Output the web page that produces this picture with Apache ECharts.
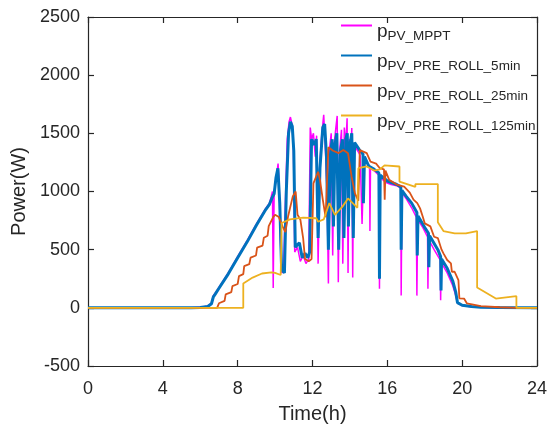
<!DOCTYPE html>
<html>
<head>
<meta charset="utf-8">
<script src="https://cdn.jsdelivr.net/npm/echarts@6/dist/echarts.min.js"></script>
<style>html,body{margin:0;padding:0;background:#fff}#c{width:550px;height:432px}</style>
</head>
<body>
<div id="c"></div>
<script>
// ---- data (time in hours, power in W) ----
var xTicks = [0, 4, 8, 12, 16, 20, 24];
var yTicks = [-500, 0, 500, 1000, 1500, 2000, 2500];
var seriesNames = ['p_PV_MPPT', 'p_PV_PRE_ROLL_5min', 'p_PV_PRE_ROLL_25min', 'p_PV_PRE_ROLL_125min'];
var legendSubs = ['PV_MPPT', 'PV_PRE_ROLL_5min', 'PV_PRE_ROLL_25min', 'PV_PRE_ROLL_125min'];

var pMPPT = [
  [0,0],[5.5,0],[6.0,4],[6.4,15],[6.6,40],[6.7,105],[6.8,125],[7.0,175],[7.5,300],[8.0,440],[8.5,575],[9.0,720],[9.5,855],
  [9.7,900],[9.8,960],[9.86,1000],[9.9,170],[9.95,1000],[10.05,1100],[10.16,1240],[10.22,1050],[10.28,600],[10.35,300],
  [10.45,320],[10.55,900],[10.65,1450],[10.75,1600],[10.82,1640],[10.9,1580],[10.98,1400],[11.05,480],[11.2,520],[11.35,400],
  [11.5,450],[11.65,380],[11.8,420],[11.88,1550],[11.95,1450],[12.05,1500],[12.15,1300],[12.22,1480],[12.3,380],[12.4,1250],
  [12.5,1500],[12.6,1660],[12.68,1400],[12.78,1000],[12.85,210],[12.9,1350],[13.0,1500],[13.08,450],[13.15,1400],[13.25,1550],
  [13.32,1650],[13.38,220],[13.45,1350],[13.55,1530],[13.62,380],[13.7,1550],[13.78,1400],[13.85,1630],[13.9,300],[13.96,1450],
  [14.04,1300],[14.1,1545],[14.15,260],[14.2,1400],[14.3,1380],[14.45,1340],[14.55,1310],[14.65,720],[14.75,1290],[14.9,1250],
  [15.05,1220],[15.07,660],[15.1,1200],[15.35,1170],[15.55,1140],[15.58,165],[15.62,1120],[15.9,1080],[16.2,1060],[16.5,1050],
  [16.72,1030],[16.74,105],[16.78,990],[17.0,940],[17.3,860],[17.55,780],[17.58,105],[17.62,760],[17.9,690],[18.15,610],
  [18.17,165],[18.2,590],[18.5,500],[18.83,410],[18.85,65],[18.88,390],[19.2,300],[19.5,190],[19.65,110],[19.75,40],
  [20.0,20],[20.5,10],[21.0,5],[22.0,0],[24,0]
];

var pRoll5 = [
  [0,0],[5.5,0],[6.0,3],[6.4,12],[6.6,35],[6.7,95],[6.8,118],[7.0,168],[7.5,292],[8.0,430],[8.5,565],[9.0,710],[9.5,845],
  [9.7,890],[9.85,950],[9.95,980],[10.05,1120],[10.15,1200],[10.25,900],[10.35,330],[10.5,300],[10.6,1000],[10.72,1500],
  [10.82,1600],[10.92,1560],[11.0,1350],[11.08,520],[11.3,560],[11.45,430],[11.6,470],[11.75,430],[11.85,480],[11.95,1450],
  [12.1,1400],[12.2,1450],[12.3,600],[12.4,1200],[12.55,1550],[12.65,1580],[12.75,1300],[12.85,500],[12.95,1300],[13.05,1450],
  [13.12,700],[13.2,1400],[13.3,1500],[13.4,500],[13.5,1350],[13.6,1450],[13.68,600],[13.78,1450],[13.86,1500],[13.92,700],
  [14.0,1400],[14.1,1500],[14.18,600],[14.25,1420],[14.5,1360],[14.7,1320],[14.72,900],[14.78,1300],[15.0,1220],[15.3,1190],
  [15.55,1160],[15.58,250],[15.62,1140],[16.0,1090],[16.5,1060],[16.72,1040],[16.74,500],[16.78,1010],[17.0,960],[17.3,900],
  [17.58,820],[17.6,450],[17.64,790],[18.0,690],[18.2,640],[18.22,350],[18.26,620],[18.7,500],[18.85,440],[18.87,150],
  [18.9,420],[19.2,340],[19.5,230],[19.65,140],[19.75,45],[20.0,22],[20.5,12],[21.0,6],[22.0,2],[24,0]
];

var pRoll25 = [
  [0,0],[6.9,0],[7.0,39],[7.3,60],[7.36,116],[7.66,135],[7.72,187],[8.0,205],[8.07,273],[8.3,290],[8.35,359],[8.62,375],
  [8.69,431],[8.98,450],[9.04,517],[9.33,535],[9.4,603],[9.6,620],[9.66,703],[9.9,780],[10.0,800],[10.2,780],[10.4,700],
  [10.55,650],[10.7,790],[10.95,960],[11.1,1000],[11.2,800],[11.35,760],[11.5,600],[11.6,420],[11.8,400],[11.95,420],
  [12.05,1070],[12.3,1170],[12.4,1100],[12.55,930],[12.7,780],[12.85,1380],[13.1,1350],[13.4,1330],[13.65,1356],[13.9,1328],
  [14.09,1127],[14.27,984],[14.45,920],[14.53,1356],[14.9,1330],[15.1,1256],[15.4,1240],[15.6,1200],[15.82,1190],[15.86,930],
  [15.9,1180],[16.1,1100],[16.5,1060],[16.9,1041],[17.2,990],[17.4,930],[17.6,900],[17.75,855],[17.9,780],[18.0,726],
  [18.3,700],[18.5,611],[18.7,600],[18.9,500],[19.0,468],[19.2,411],[19.4,382],[19.45,310],[19.6,310],[19.8,239],[19.85,82],
  [20.1,80],[20.25,39],[21,15],[22,5],[22.9,0],[24,0]
];

var pRoll125 = [
  [0,0],[8.3,0],[8.3,210],[8.8,260],[9.3,295],[9.8,305],[10.0,300],[10.3,282],[10.35,729],[10.8,760],[11.5,775],[12.2,770],
  [12.3,740],[12.6,760],[12.9,900],[13.2,800],[13.6,870],[13.9,940],[14.4,860],[14.45,1200],[14.9,1215],[15.3,1180],[15.6,1190],
  [15.85,1225],[16.65,1215],[16.65,1085],[17.5,1040],[17.5,1064],[18.7,1064],[18.7,735],[19.0,660],[19.6,640],[20.2,640],
  [20.8,660],[20.8,175],[21.8,80],[22.9,100],[22.9,0],[24,0]
];

var colors = ['#FF00FF', '#0072BD', '#D95319', '#EDB120'];
var widths = [1.5, 3, 1.8, 1.8];
var allData = [pMPPT, pRoll5, pRoll25, pRoll125];
// which axis pair each series uses (both pairs share identical scales; pair 1 gives the top/right box axes)
var axisPair = [1, 0, 0, 0];

var FONT = 'Liberation Sans, Arial, sans-serif';
var TXT = '#262626';

var chart = echarts.init(document.getElementById('c'), null, {renderer: 'canvas'});
function lineSt() { return {show: true, onZero: false, lineStyle: {color: TXT, width: 1.2}}; }
function tickSt() { return {show: true, inside: true, length: 6, lineStyle: {color: TXT, width: 1.2}}; }
var option = {
  animation: false,
  backgroundColor: '#fff',
  grid: {left: 88, right: 10, top: 17, bottom: 66, containLabel: false},
  legend: {
    orient: 'vertical', left: 341, top: 16, padding: 0, itemGap: 3,
    itemWidth: 31, itemHeight: 2, icon: 'rect',
    data: seriesNames,
    formatter: function (n) { return '{p|p}{s|' + legendSubs[seriesNames.indexOf(n)] + '}'; },
    textStyle: {
      color: TXT, fontFamily: FONT,
      rich: {
        p: {fontSize: 19, lineHeight: 19, padding: [6, 0, 0, 0], verticalAlign: 'top', fontFamily: FONT, color: TXT},
        s: {fontSize: 13.5, lineHeight: 14, padding: [13, 0, 0, 0], verticalAlign: 'top', fontFamily: FONT, color: TXT}
      }
    }
  },
  xAxis: [{
    type: 'value', gridIndex: 0, min: xTicks[0], max: xTicks[xTicks.length - 1], interval: xTicks[1] - xTicks[0],
    name: 'Time(h)', nameLocation: 'middle', nameGap: 38,
    nameTextStyle: {fontSize: 20, fontFamily: FONT, color: TXT},
    axisLine: lineSt(), axisTick: tickSt(),
    axisLabel: {fontSize: 18, fontFamily: FONT, color: TXT, margin: 14},
    splitLine: {show: false}
  }, {
    type: 'value', gridIndex: 0, show: true, position: 'top', min: xTicks[0], max: xTicks[xTicks.length - 1], interval: xTicks[1] - xTicks[0],
    axisLine: lineSt(), axisTick: tickSt(),
    axisLabel: {show: false}, splitLine: {show: false}
  }],
  yAxis: [{
    type: 'value', gridIndex: 0, min: yTicks[0], max: yTicks[yTicks.length - 1], interval: yTicks[1] - yTicks[0],
    name: 'Power(W)', nameLocation: 'middle', nameGap: 59,
    nameTextStyle: {fontSize: 20, fontFamily: FONT, color: TXT},
    axisLine: lineSt(), axisTick: tickSt(),
    axisLabel: {fontSize: 18, fontFamily: FONT, color: TXT, margin: 8, formatter: function (v) { return String(v); }},
    splitLine: {show: false}
  }, {
    type: 'value', gridIndex: 0, show: true, position: 'right', min: yTicks[0], max: yTicks[yTicks.length - 1], interval: yTicks[1] - yTicks[0],
    axisLine: lineSt(), axisTick: tickSt(),
    axisLabel: {show: false}, splitLine: {show: false}
  }],
  series: seriesNames.map(function (n, i) {
    return {
      name: n, type: 'line', xAxisIndex: axisPair[i], yAxisIndex: axisPair[i],
      data: allData[i], symbol: 'none', showSymbol: false, z: 2 + i,
      lineStyle: {color: colors[i], width: widths[i]}, itemStyle: {color: colors[i]}
    };
  })
};
chart.setOption(option);
</script>
</body>
</html>
